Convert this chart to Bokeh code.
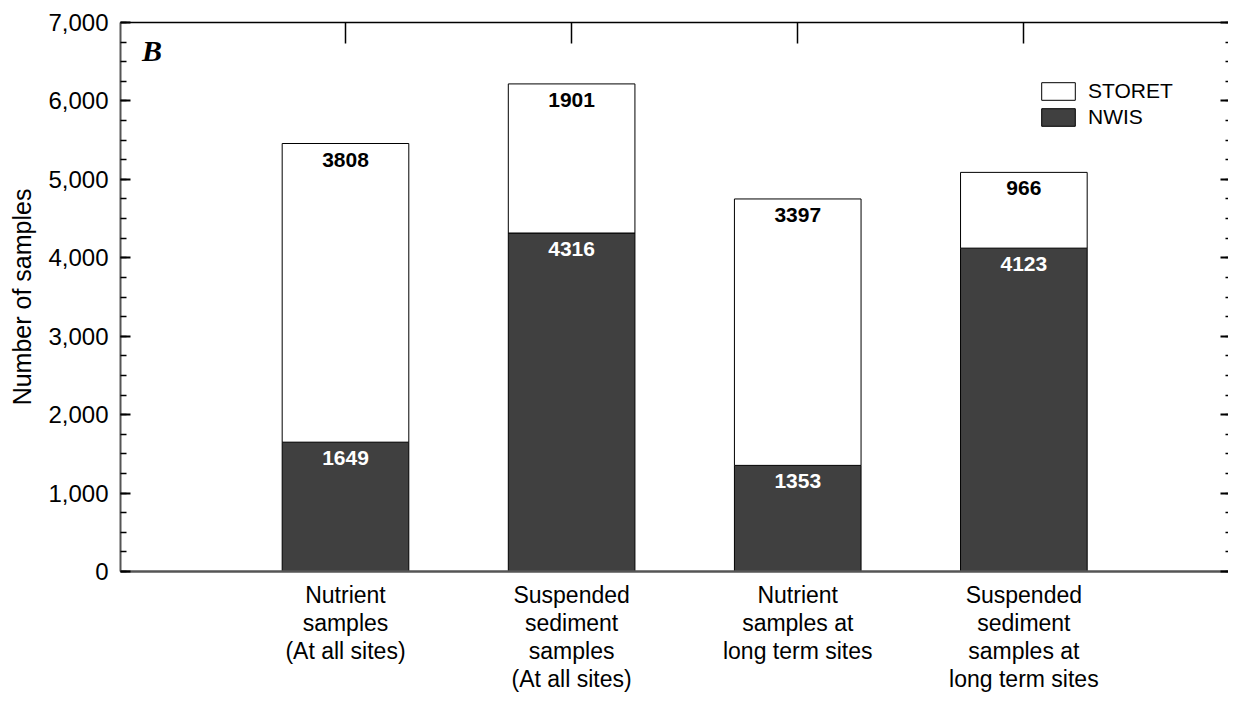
from bokeh.plotting import figure
from bokeh.models import (Range1d, LinearAxis, FixedTicker, SingleIntervalTicker,
                          NumeralTickFormatter, Legend, LegendItem, Label, ColumnDataSource,
                          CustomLabelingPolicy)
from bokeh.embed import file_html
from bokeh.resources import INLINE
from bokeh.core.properties import value

categories = [
    "Nutrient\nsamples\n(At all sites)",
    "Suspended\nsediment\nsamples\n(At all sites)",
    "Nutrient\nsamples at\nlong term sites",
    "Suspended\nsediment\nsamples at\nlong term sites",
]
nwis = [1649, 4316, 1353, 4123]
storet = [3808, 1901, 3397, 966]
series = ["NWIS", "STORET"]
colors = ["#404040", "#ffffff"]

FONT = "Liberation Sans"

xs = list(range(1, len(categories) + 1))
totals = [a + b for a, b in zip(nwis, storet)]
src = ColumnDataSource(dict(
    x=xs, NWIS=nwis, STORET=storet, total=totals,
    nwis_lbl=[str(v) for v in nwis], storet_lbl=[str(v) for v in storet],
))

p = figure(width=1228, height=694, x_range=Range1d(0.005, 4.905), y_range=Range1d(0, 7000),
           output_backend="svg", toolbar_location=None,
           x_axis_location=None, y_axis_location=None,
           min_border_left=120, min_border_top=22, min_border_bottom=120, min_border_right=0)
p.outline_line_color = None
p.xgrid.visible = False
p.ygrid.visible = False
p.background_fill_color = "white"

rs = p.vbar_stack(series, x="x", width=0.56, source=src, fill_color=colors,
                  line_color="black", line_width=1)

p.text(x="x", y="NWIS", text="nwis_lbl", source=src, text_align="center", text_baseline="top",
       y_offset=9, text_color="white", text_font=value(FONT), text_font_style="bold",
       text_font_size="21px")
p.text(x="x", y="total", text="storet_lbl", source=src, text_align="center", text_baseline="top",
       y_offset=9, text_color="black", text_font=value(FONT), text_font_style="bold",
       text_font_size="21px")

no_labels = CustomLabelingPolicy(
    code="const ids = Array.from(indices); for (const i of ids) indices.unset(i); return indices")

# left axis
left = LinearAxis(ticker=SingleIntervalTicker(interval=1000, num_minor_ticks=4),
                  formatter=NumeralTickFormatter(format="0,0"),
                  axis_label="Number of samples",
                  axis_label_text_font=FONT, axis_label_text_font_style="normal",
                  axis_label_text_font_size="25px", axis_label_standoff=9,
                  axis_label_text_color="black",
                  major_label_text_font=FONT, major_label_text_font_size="24px",
                  major_label_text_color="black",
                  major_label_standoff=12,
                  major_tick_in=10, major_tick_out=0, minor_tick_in=6, minor_tick_out=0,
                  major_tick_line_color="black", major_tick_line_width=2,
                  minor_tick_line_color="black", minor_tick_line_width=1.5,
                  axis_line_color="#555555", axis_line_width=2)
p.add_layout(left, "left")

# right axis (ticks only)
right = LinearAxis(ticker=SingleIntervalTicker(interval=1000, num_minor_ticks=4),
                   major_label_policy=no_labels, major_label_standoff=0,
                   major_label_text_font_size="0px",
                   major_tick_in=8, major_tick_out=0, minor_tick_in=3, minor_tick_out=0,
                   major_tick_line_color="black", major_tick_line_width=2,
                   minor_tick_line_color="black", minor_tick_line_width=1.5,
                   axis_line_color=None)
p.add_layout(right, "right")

# top axis
top = LinearAxis(ticker=FixedTicker(ticks=xs), major_label_policy=no_labels,
                 major_label_text_font_size="0px",
                 major_label_standoff=0, major_tick_in=21, major_tick_out=0,
                 minor_tick_line_color=None, major_tick_line_color="black",
                 major_tick_line_width=1.5, axis_line_color="black", axis_line_width=1.5)
p.add_layout(top, "above")

# bottom axis
bottom = LinearAxis(ticker=FixedTicker(ticks=xs),
                    major_label_overrides={x: c for x, c in zip(xs, categories)},
                    major_label_text_font=FONT, major_label_text_font_size="23px",
                    major_label_text_color="black",
                    major_label_text_line_height=1.08,
                    major_label_standoff=10, major_tick_in=0, major_tick_out=0,
                    minor_tick_line_color=None, major_tick_line_color=None,
                    axis_line_color="#555555", axis_line_width=2.5)
p.add_layout(bottom, "below")

legend = Legend(items=[LegendItem(label="STORET", renderers=[rs[1]]),
                       LegendItem(label="NWIS", renderers=[rs[0]])],
                location=(917, 442), border_line_color=None, background_fill_alpha=0,
                padding=0, margin=0, glyph_width=42, glyph_height=22, label_standoff=9,
                spacing=2, label_text_font=FONT, label_text_font_size="21px",
                label_text_color="black")
p.add_layout(legend)

p.add_layout(Label(x=0.1, y=6850, text="B", text_font="Liberation Serif",
                   text_font_style="bold italic", text_font_size="30px", text_baseline="top",
                   text_color="black"))

open("out.html", "w").write(file_html(p, INLINE))
